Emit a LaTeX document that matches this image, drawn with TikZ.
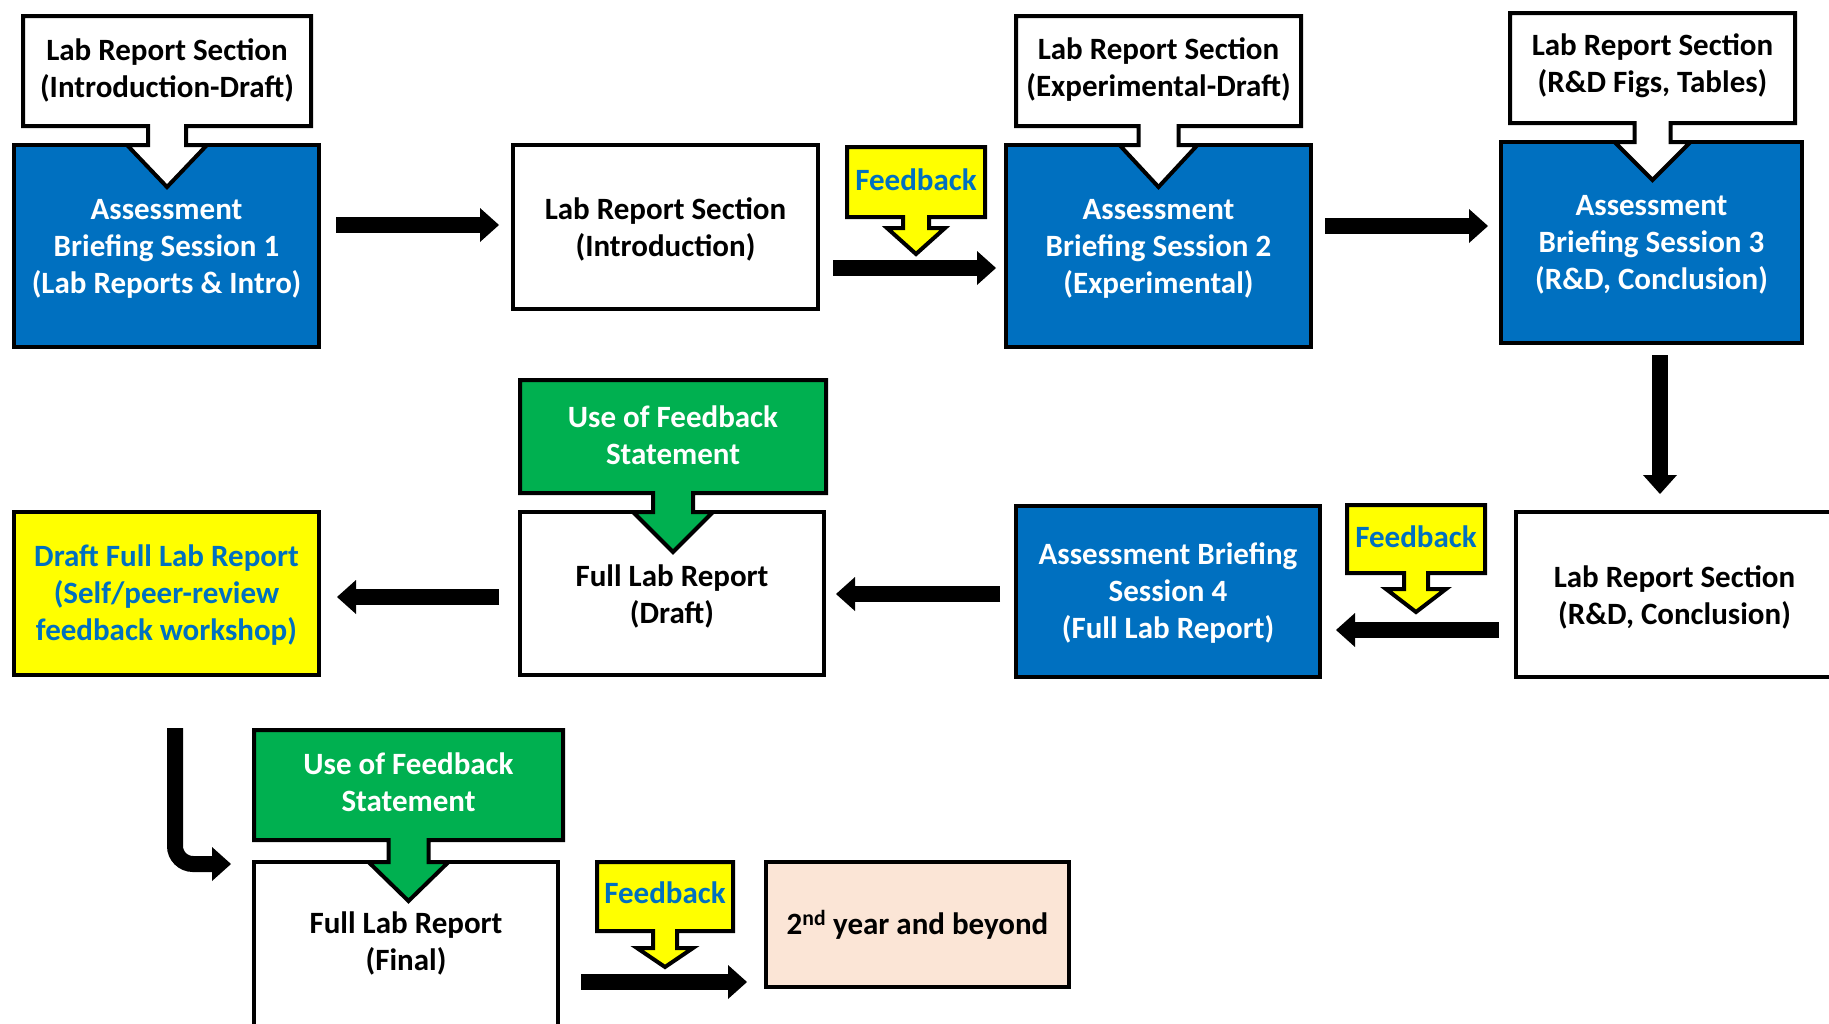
\documentclass[tikz,border=0pt]{standalone}
\usepackage{fontspec}
\setmainfont{Carlito}
\usetikzlibrary{arrows.meta}
\definecolor{myblue}{HTML}{0070C0}
\definecolor{mygreen}{HTML}{00B050}
\definecolor{myyellow}{HTML}{FFFF00}
\definecolor{mypeach}{HTML}{FBE5D6}
\newcommand\diafont{\fontsize{31}{37}\selectfont\bfseries}
% fill, x1, y1, x2, y2, stem half, head top, head half, tip y
\newcommand\calloutshape[9]{%
  \path[calloutline, fill=#1] (#2,#3) -- (#4,#3) -- (#4,#5)
    -- ({(#2+#4)/2+#6},#5) -- ({(#2+#4)/2+#6},#7) -- ({(#2+#4)/2+#8},#7)
    -- ({(#2+#4)/2},#9) -- ({(#2+#4)/2-#8},#7) -- ({(#2+#4)/2-#6},#7)
    -- ({(#2+#4)/2-#6},#5) -- (#2,#5) -- cycle;}
\tikzset{
  box/.style={draw=black, line width=4pt, inner sep=0pt, fill=white},
  bluebox/.style={box, fill=myblue},
  yellowbox/.style={box, fill=myyellow},
  peachbox/.style={box, fill=mypeach},
  calloutline/.style={draw=black, line width=4pt, line join=miter},
  lbl/.style={inner sep=0pt, align=center, font=\diafont, text=black},
  wlbl/.style={lbl, text=white},
  blbl/.style={lbl, text=myblue},
  barrow/.style={draw=black, line width=16pt,
    -{Triangle[width=34pt,length=19pt,line width=0pt]}},
}
\begin{document}
\begin{tikzpicture}[x=1pt,y=-1pt]
\useasboundingbox (0,0) rectangle (1829,1023);
\clip (0,0) rectangle (1829,1023);
\fill[white] (0,0) rectangle (1829,1023);

% ---- boxes ----
\node[bluebox, minimum width=305pt, minimum height=202pt] (b1) at (166.5,246) {};
\node[wlbl] (b1t) at ([yshift=-2.5pt]b1.center) {Assessment\\Briefing Session 1\\(Lab Reports \& Intro)};
\node[box, minimum width=305pt, minimum height=164pt] (w1) at (665.5,227) {};
\node[lbl] (w1t) at ([yshift=-2.5pt]w1.center) {Lab Report Section\\(Introduction)};
\node[bluebox, minimum width=305pt, minimum height=202pt] (b2) at (1158.5,246) {};
\node[wlbl] (b2t) at ([yshift=-2.5pt]b2.center) {Assessment\\Briefing Session 2\\(Experimental)};
\node[bluebox, minimum width=301pt, minimum height=201pt] (b3) at (1651.5,242.5) {};
\node[wlbl] (b3t) at ([yshift=-2.5pt]b3.center) {Assessment\\Briefing Session 3\\(R\&D, Conclusion)};
\node[box, minimum width=317pt, minimum height=165pt] (w2) at (1674.5,594.5) {};
\node[lbl] (w2t) at ([yshift=-2.5pt]w2.center) {Lab Report Section\\(R\&D, Conclusion)};
\node[bluebox, minimum width=304pt, minimum height=171pt] (b4) at (1168,591.5) {};
\node[wlbl] (b4t) at ([yshift=-2pt]b4.center) {Assessment Briefing\\Session 4\\(Full Lab Report)};
\node[box, minimum width=304pt, minimum height=163pt] (w3) at (672,593.5) {};
\node[lbl] (w3t) at ([yshift=-2.5pt]w3.center) {Full Lab Report\\(Draft)};
\node[yellowbox, minimum width=305pt, minimum height=163pt] (y1) at (166.5,593.5) {};
\node[blbl] (y1t) at ([yshift=-1.5pt]y1.center) {Draft Full Lab Report\\(Self/peer-review\\feedback workshop)};
\node[box, minimum width=304pt, minimum height=168pt] (w4) at (406,946) {};
\node[lbl] (w4t) at ([yshift=2.5pt]w4.center) {Full Lab Report\\(Final)};
\node[peachbox, minimum width=303pt, minimum height=125pt] (p1) at (917.5,924.5) {};
\node[lbl] (p1t) at (p1.center) {2\textsuperscript{nd} year and beyond};
% ---- callouts ----
\calloutshape{white}{23}{16}{311}{126}{19}{145}{40}{187}
\node[lbl] (c1) at (167,70) {Lab Report Section\\(Introduction-Draft)};
\calloutshape{white}{1016}{16}{1301}{126}{20}{145}{39}{187}
\node[lbl] (c2) at (1158.5,70) {Lab Report Section\\(Experimental-Draft)};
\calloutshape{white}{1510}{13}{1795}{123}{18}{142}{38}{180}
\node[lbl] (c3) at (1652.5,66) {Lab Report Section\\(R\&D Figs, Tables)};
\calloutshape{myyellow}{847}{147}{985}{217}{13}{228}{29}{254}
\node[blbl] (f1) at (916,180) {Feedback};
\calloutshape{myyellow}{1347}{505}{1485}{573}{12}{589}{30}{612}
\node[blbl] (f2) at (1416,537) {Feedback};
\calloutshape{myyellow}{597}{862}{733}{931}{12}{948}{28}{967}
\node[blbl] (f3) at (665,893) {Feedback};
\calloutshape{mygreen}{520}{380}{826}{493}{20}{512}{40}{552}
\node[wlbl] (g1) at (673,435) {Use of Feedback\\Statement};
\calloutshape{mygreen}{254}{730}{563}{840}{20}{862}{40}{901}
\node[wlbl] (g2) at (408.5,782) {Use of Feedback\\Statement};

% ---- block arrows ----
\draw[barrow, shorten <=15pt, shorten >=12pt] (b1.east |- 0,225) -- (w1.west |- 0,225);
\draw[barrow, shorten <=13pt, shorten >=8pt] (w1.east |- 0,268) -- (b2.west |- 0,268);
\draw[barrow, shorten <=12pt, shorten >=11pt] (b2.east |- 0,226) -- (b3.west |- 0,226);
\draw[barrow, shorten <=10pt, shorten >=16pt] (1660,0 |- b3.south) -- (1660,0 |- w2.north);
\draw[barrow, shorten <=15pt, shorten >=14pt] (w2.west |- 0,630) -- (b4.east |- 0,630);
\draw[barrow, shorten <=14pt, shorten >=10pt] (b4.west |- 0,594) -- (w3.east |- 0,594);
\draw[barrow, shorten <=19pt, shorten >=16pt] (w3.west |- 0,597) -- (y1.east |- 0,597);
\draw[barrow, rounded corners=18pt, shorten <=51pt, shorten >=21pt] (175,0 |- y1.south) |- (w4.west |- 0,864);
\draw[barrow, shorten <=21pt, shorten >=17pt] (w4.east |- 0,982) -- (p1.west |- 0,982);
\end{tikzpicture}
\end{document}
